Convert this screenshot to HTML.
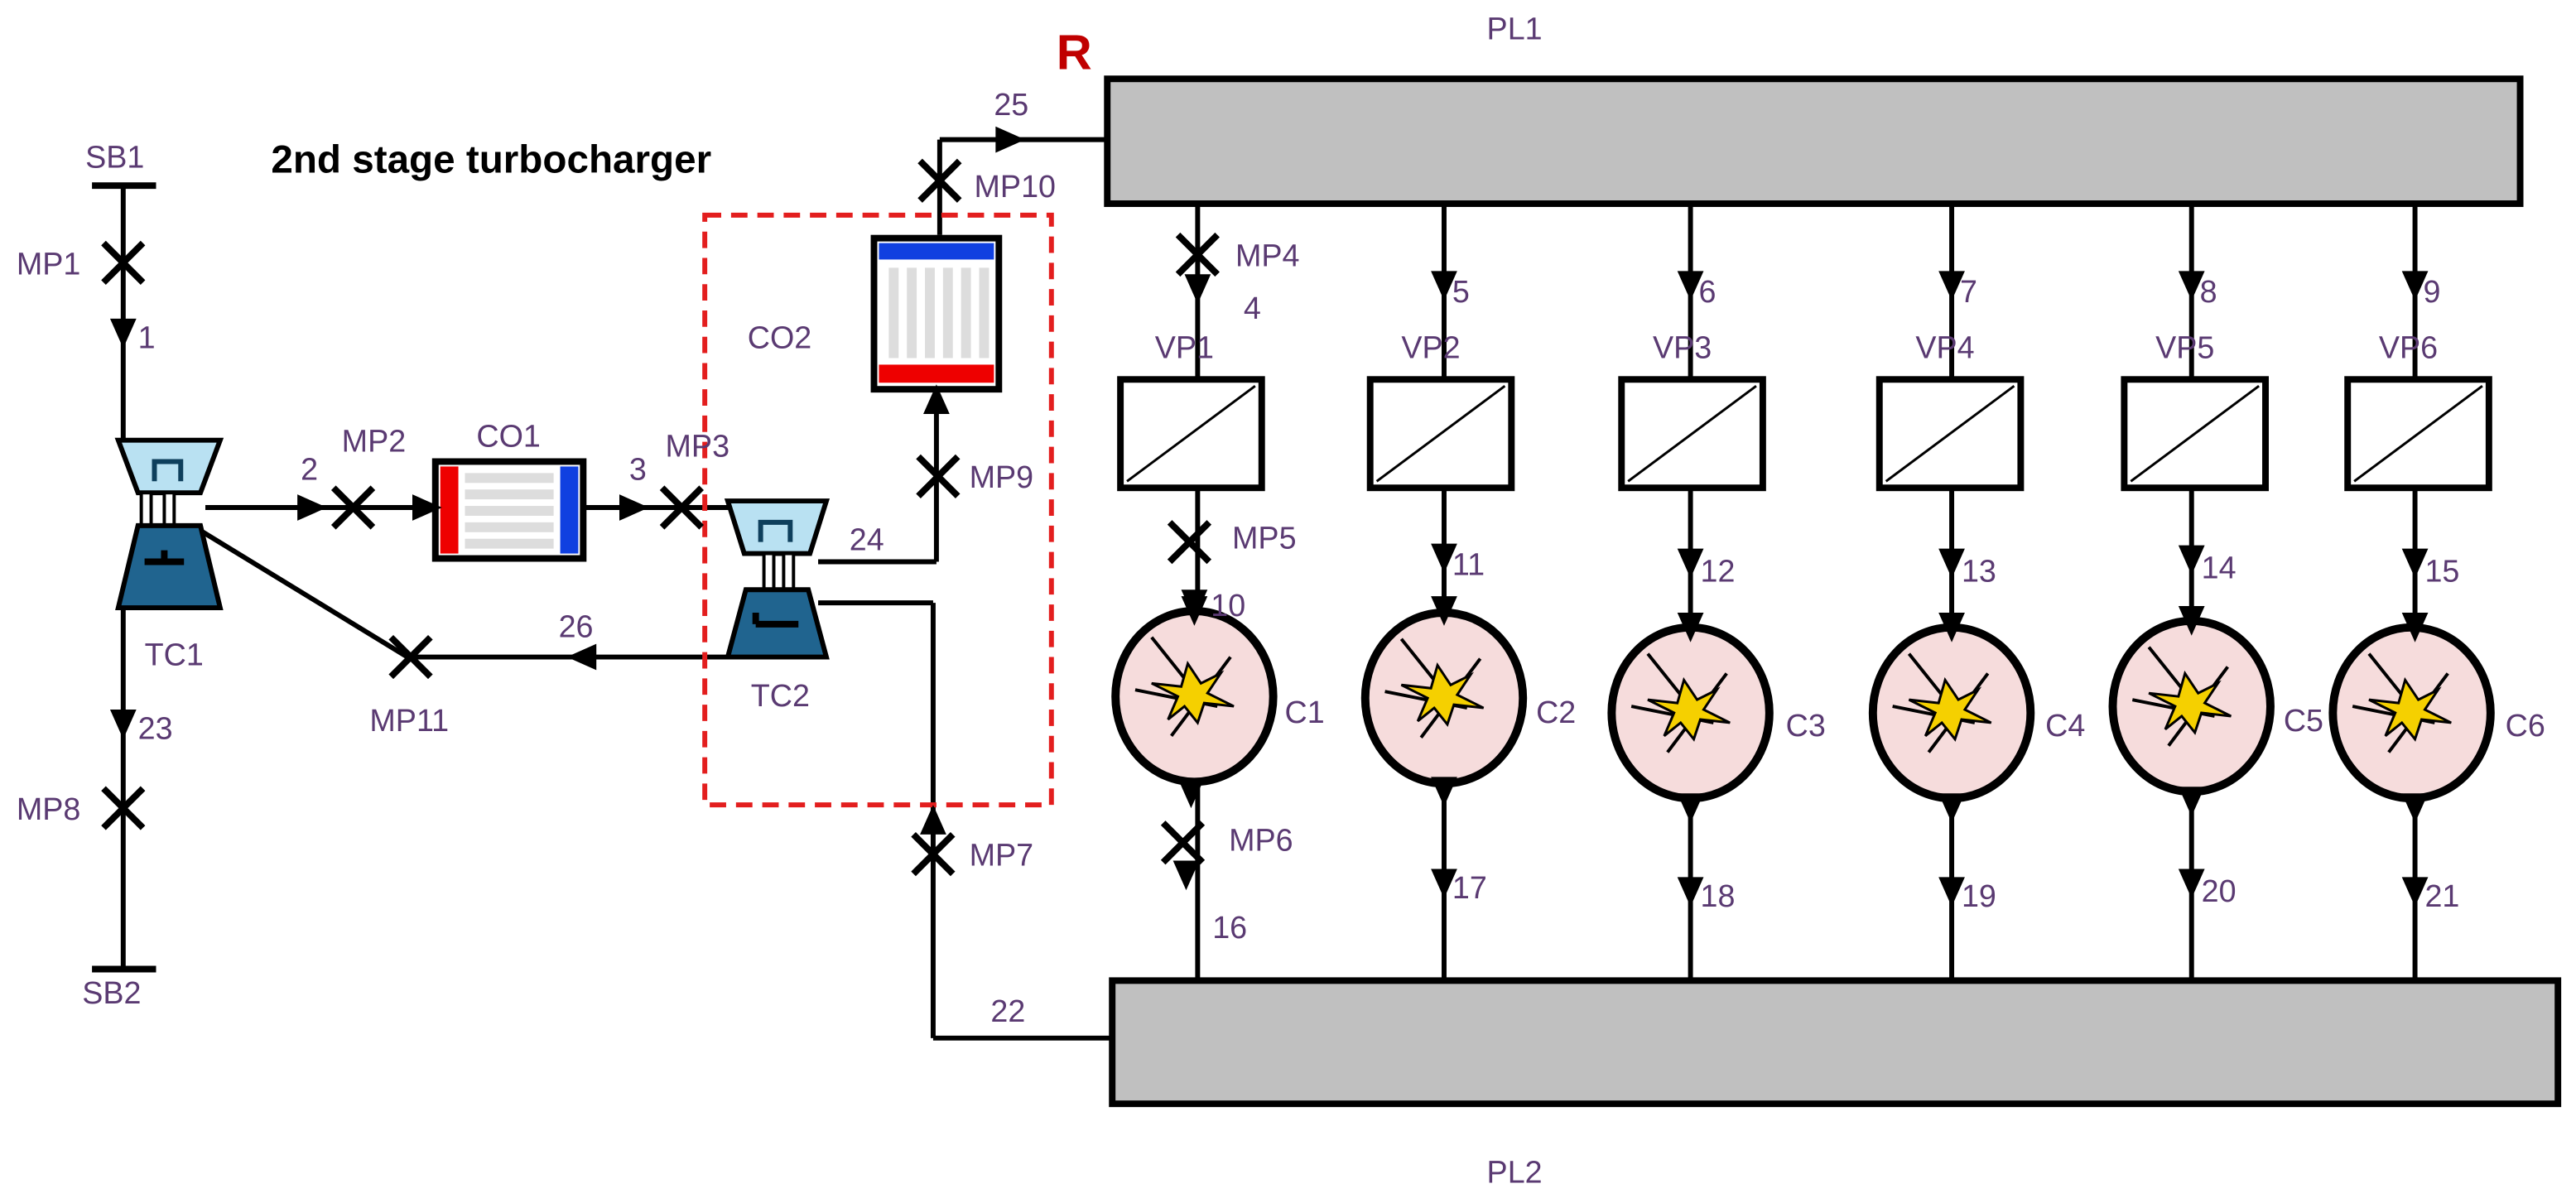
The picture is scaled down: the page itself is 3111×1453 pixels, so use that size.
<!DOCTYPE html>
<html><head><meta charset="utf-8"><style>
html,body{margin:0;padding:0;background:#fff;}
svg{display:block;}
text{font-family:"Liberation Sans",sans-serif;fill:#5a3a72;font-size:19px;}
</style></head><body>
<svg width="3111" height="1453" viewBox="0 0 1568 732.4" preserveAspectRatio="none" xmlns="http://www.w3.org/2000/svg">
<defs>
<symbol id="ad" overflow="visible"><polygon points="-8,-11 8,-11 0,7" fill="#000"/></symbol>
<symbol id="au" overflow="visible"><polygon points="-8,11 8,11 0,-7" fill="#000"/></symbol>
<symbol id="ar" overflow="visible"><polygon points="-11,-8 -11,8 7,0" fill="#000"/></symbol>
<symbol id="al" overflow="visible"><polygon points="11,-8 11,8 -7,0" fill="#000"/></symbol>
<symbol id="x" overflow="visible"><path d="M-12,-12L12,12M12,-12L-12,12" stroke="#000" stroke-width="4"/></symbol>
<symbol id="vp" overflow="visible"><rect x="0" y="0" width="86" height="66" fill="#fff" stroke="#000" stroke-width="4"/><line x1="4" y1="62" x2="82" y2="4" stroke="#000" stroke-width="1.5"/></symbol>
<symbol id="cyl" overflow="visible">
<ellipse cx="0" cy="0" rx="48" ry="52" fill="#f6dcdc" stroke="#000" stroke-width="5"/>
<path d="M-26,-36L-2,-6M-36,-4L14,6M22,-24L-14,24" stroke="#000" stroke-width="2"/>
<polygon points="-26,-8 -8,-6 -4,-20 4,-8 16,-14 8,-2 24,6 6,4 2,16 -6,6 -16,14 -10,0" fill="#f5d000" stroke="#000" stroke-width="1.5"/>
</symbol>
</defs>

<!-- plenums -->
<rect x="674" y="48" width="860" height="76" fill="#c0c0c0" stroke="#000" stroke-width="4"/>
<rect x="677" y="597" width="880" height="75" fill="#c0c0c0" stroke="#000" stroke-width="4"/>
<text x="905" y="24">PL1</text>
<text x="905" y="720">PL2</text>
<text x="643" y="42" style="fill:#c00000;font-weight:bold;font-size:30px">R</text>

<!-- columns -->
<g stroke="#000" stroke-width="3" fill="none">
<line x1="729" y1="124" x2="729" y2="597"/>
<line x1="879" y1="124" x2="879" y2="597"/>
<line x1="1029" y1="124" x2="1029" y2="597"/>
<line x1="1188" y1="124" x2="1188" y2="597"/>
<line x1="1334" y1="124" x2="1334" y2="597"/>
<line x1="1470" y1="124" x2="1470" y2="597"/>
</g>
<use href="#vp" x="682" y="231"/><use href="#vp" x="834" y="231"/><use href="#vp" x="987" y="231"/>
<use href="#vp" x="1144" y="231"/><use href="#vp" x="1293" y="231"/><use href="#vp" x="1429" y="231"/>
<text x="703" y="218">VP1</text><text x="853" y="218">VP2</text><text x="1006" y="218">VP3</text>
<text x="1166" y="218">VP4</text><text x="1312" y="218">VP5</text><text x="1448" y="218">VP6</text>

<use href="#cyl" x="727" y="424"/><use href="#cyl" x="879" y="425"/><use href="#cyl" x="1029" y="434"/>
<use href="#cyl" x="1188" y="434"/><use href="#cyl" x="1334" y="430"/><use href="#cyl" x="1468" y="434"/>
<text x="782" y="440">C1</text><text x="935" y="440">C2</text><text x="1087" y="448">C3</text>
<text x="1245" y="448">C4</text><text x="1390" y="445">C5</text><text x="1525" y="448">C6</text>

<!-- arrows top -->
<use href="#ad" x="729" y="178"/><use href="#ad" x="879" y="176"/><use href="#ad" x="1029" y="176"/>
<use href="#ad" x="1188" y="176"/><use href="#ad" x="1334" y="176"/><use href="#ad" x="1470" y="176"/>
<use href="#x" x="729" y="155"/>
<text x="752" y="162">MP4</text><text x="757" y="194">4</text>
<text x="884" y="184">5</text><text x="1034" y="184">6</text><text x="1193" y="184">7</text><text x="1339" y="184">8</text><text x="1475" y="184">9</text>
<!-- middle arrows -->
<use href="#x" x="724" y="330"/><text x="750" y="334">MP5</text>
<use href="#ad" x="727" y="370"/><text x="737" y="375">10</text>
<use href="#ad" x="879" y="342"/><use href="#ad" x="1029" y="345"/><use href="#ad" x="1188" y="345"/>
<use href="#ad" x="1334" y="343"/><use href="#ad" x="1470" y="345"/>
<text x="884" y="350">11</text><text x="1035" y="354">12</text><text x="1194" y="354">13</text><text x="1340" y="352">14</text><text x="1476" y="354">15</text>
<use href="#ad" x="727" y="374"/><use href="#ad" x="879" y="374"/><use href="#ad" x="1029" y="384"/>
<use href="#ad" x="1188" y="384"/><use href="#ad" x="1334" y="380"/><use href="#ad" x="1470" y="384"/>
<!-- bottom arrows -->
<use href="#ad" x="725" y="485"/><use href="#ad" x="879" y="484"/><use href="#ad" x="1029" y="494"/>
<use href="#ad" x="1188" y="494"/><use href="#ad" x="1334" y="490"/><use href="#ad" x="1470" y="494"/>
<use href="#x" x="720" y="513"/><text x="748" y="518">MP6</text>
<use href="#ad" x="722" y="535"/><text x="738" y="571">16</text>
<use href="#ad" x="879" y="540"/><use href="#ad" x="1029" y="545"/><use href="#ad" x="1188" y="545"/>
<use href="#ad" x="1334" y="540"/><use href="#ad" x="1470" y="545"/>
<text x="884" y="547">17</text><text x="1035" y="552">18</text><text x="1194" y="552">19</text><text x="1340" y="549">20</text><text x="1476" y="552">21</text>

<!-- left system lines -->
<g stroke="#000" stroke-width="3" fill="none">
<line x1="56" y1="113" x2="95" y2="113" stroke-width="4"/>
<line x1="75" y1="113" x2="75" y2="268"/>
<line x1="75" y1="370" x2="75" y2="590"/>
<line x1="56" y1="590" x2="95" y2="590" stroke-width="4"/>
<line x1="125" y1="309" x2="265" y2="309"/>
<line x1="355" y1="309" x2="453" y2="309"/>
<line x1="122" y1="323" x2="248" y2="400"/>
<line x1="248" y1="400" x2="450" y2="400"/>
<line x1="498" y1="342" x2="570" y2="342"/>
<line x1="570" y1="342" x2="570" y2="237"/>
<line x1="572" y1="143" x2="572" y2="85"/>
<line x1="572" y1="85" x2="674" y2="85"/>
<line x1="498" y1="367" x2="568" y2="367"/>
<line x1="568" y1="367" x2="568" y2="632"/>
<line x1="568" y1="632" x2="677" y2="632"/>
</g>
<!-- red dashed box -->
<rect x="429" y="131" width="211" height="359" fill="none" stroke="#e31e1e" stroke-width="3" stroke-dasharray="10,6"/>

<!-- TC1 -->
<polygon points="72,268 134,268 122,300 84,300" fill="#b9e1f2" stroke="#000" stroke-width="3"/>
<path d="M94,293V281H110V293" stroke="#0e3f5c" stroke-width="3" fill="none"/>
<rect x="86" y="300" width="6" height="20" fill="#fff" stroke="#000" stroke-width="2"/>
<rect x="100" y="300" width="6" height="20" fill="#fff" stroke="#000" stroke-width="2"/>
<polygon points="84,320 122,320 134,370 72,370" fill="#20648f" stroke="#000" stroke-width="3"/>
<path d="M88,342H112M100,342V335" stroke="#000" stroke-width="4"/>
<text x="88" y="405">TC1</text>
<!-- TC2 -->
<polygon points="443,305 503,305 493,337 453,337" fill="#b9e1f2" stroke="#000" stroke-width="3"/>
<path d="M463,330V318H481V330" stroke="#0e3f5c" stroke-width="3" fill="none"/>
<rect x="465" y="337" width="6" height="22" fill="#fff" stroke="#000" stroke-width="2"/>
<rect x="477" y="337" width="6" height="22" fill="#fff" stroke="#000" stroke-width="2"/>
<polygon points="454,359 492,359 503,400 443,400" fill="#20648f" stroke="#000" stroke-width="3"/>
<path d="M460,380H486M460,380V373" stroke="#000" stroke-width="4"/>
<text x="457" y="430">TC2</text>

<!-- CO1 -->
<rect x="265" y="281" width="90" height="59" fill="#fff" stroke="#000" stroke-width="4"/>
<rect x="268" y="284" width="11" height="53" fill="#e00"/>
<rect x="341" y="284" width="11" height="53" fill="#1040e0"/>
<g fill="#ddd"><rect x="283" y="288" width="54" height="6"/><rect x="283" y="298" width="54" height="6"/><rect x="283" y="308" width="54" height="6"/><rect x="283" y="318" width="54" height="6"/><rect x="283" y="328" width="54" height="6"/></g>
<text x="290" y="272">CO1</text>
<!-- CO2 -->
<rect x="532" y="145" width="76" height="92" fill="#fff" stroke="#000" stroke-width="4"/>
<rect x="535" y="148" width="70" height="10" fill="#1040e0"/>
<rect x="535" y="222" width="70" height="11" fill="#e00"/>
<g fill="#ddd"><rect x="541" y="163" width="6" height="55"/><rect x="552" y="163" width="6" height="55"/><rect x="563" y="163" width="6" height="55"/><rect x="574" y="163" width="6" height="55"/><rect x="585" y="163" width="6" height="55"/><rect x="596" y="163" width="6" height="55"/></g>
<text x="455" y="212">CO2</text>

<!-- markers left -->
<use href="#x" x="75" y="160"/><text x="10" y="167">MP1</text>
<use href="#ad" x="75" y="205"/><text x="84" y="212">1</text>
<use href="#ad" x="75" y="443"/><text x="84" y="450">23</text>
<use href="#x" x="75" y="492"/><text x="10" y="499">MP8</text>
<text x="52" y="102">SB1</text><text x="50" y="611">SB2</text>
<use href="#ar" x="192" y="309"/><text x="183" y="292">2</text>
<use href="#x" x="215" y="309"/><text x="208" y="275">MP2</text>
<use href="#ar" x="262" y="309"/>
<use href="#ar" x="388" y="309"/><text x="383" y="292">3</text>
<use href="#x" x="415" y="309"/><text x="405" y="278">MP3</text>
<use href="#x" x="250" y="400"/><text x="225" y="445">MP11</text>
<use href="#al" x="352" y="400"/><text x="340" y="388">26</text>
<text x="517" y="335">24</text>
<use href="#x" x="571" y="290"/><text x="590" y="297">MP9</text>
<use href="#au" x="570" y="241"/>
<use href="#x" x="572" y="110"/><text x="593" y="120">MP10</text>
<use href="#ar" x="617" y="85"/><text x="605" y="70">25</text>
<use href="#au" x="568" y="497"/>
<use href="#x" x="568" y="520"/><text x="590" y="527">MP7</text>
<text x="603" y="622">22</text>
<text x="165" y="105" style="fill:#000;font-weight:bold;font-size:24px">2nd stage turbocharger</text>
</svg>
</body></html>
